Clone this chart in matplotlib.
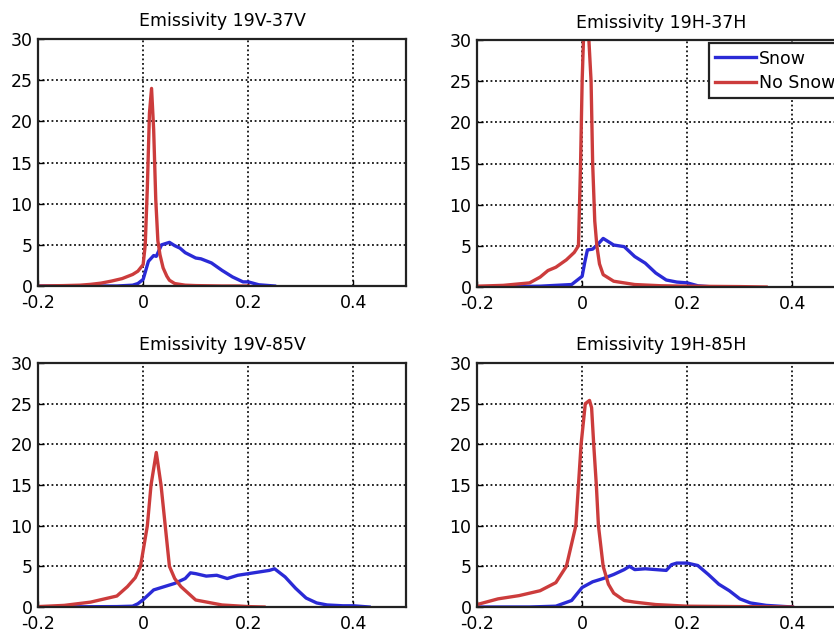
import matplotlib.pyplot as plt

plt.rcParams['font.family'] = ['DejaVu Sans']

# Emissivity 19V-37V
x_v37_nosnow = [-0.2, -0.15, -0.12, -0.10, -0.08, -0.06, -0.04, -0.02, -0.01, 0.0, 0.004, 0.008,
                0.012, 0.016, 0.02, 0.024, 0.028, 0.032, 0.038, 0.045, 0.05, 0.06, 0.08, 0.1, 0.15, 0.2]
y_v37_nosnow = [0.0, 0.05, 0.1, 0.2, 0.35, 0.6, 0.9, 1.4, 1.8, 2.6, 5.0, 12.0,
                21.0, 24.0, 19.0, 10.5, 5.5, 3.8, 2.2, 1.2, 0.7, 0.3, 0.1, 0.05, 0.0, 0.0]
x_v37_snow = [-0.2, -0.05, -0.02, -0.01, 0.0, 0.01, 0.02, 0.025, 0.03, 0.035, 0.05, 0.06, 0.07,
              0.08, 0.1, 0.11, 0.13, 0.15, 0.17, 0.19, 0.2, 0.22, 0.25]
y_v37_snow = [0.0, 0.0, 0.1, 0.3, 0.8, 3.0, 3.7, 3.6, 4.3, 5.0, 5.3, 4.9, 4.6,
              4.05, 3.4, 3.3, 2.8, 1.9, 1.1, 0.5, 0.5, 0.15, 0.0]

# Emissivity 19H-37H
x_h37_nosnow = [-0.2, -0.15, -0.1, -0.08, -0.065, -0.05, -0.03, -0.015, -0.007, -0.003, 0.0,
                0.003, 0.007, 0.012, 0.017, 0.02, 0.024, 0.028, 0.033, 0.04, 0.06, 0.1, 0.15,
                0.2, 0.3, 0.35]
y_h37_nosnow = [0.1, 0.2, 0.5, 1.2, 2.0, 2.4, 3.3, 4.2, 5.0, 15.0, 25.0,
                31.0, 32.0, 31.0, 25.0, 15.0, 8.0, 5.0, 2.8, 1.5, 0.7, 0.3, 0.15,
                0.1, 0.05, 0.0]
x_h37_snow = [-0.2, -0.08, -0.02, 0.0, 0.005, 0.01, 0.02, 0.03, 0.04, 0.06, 0.08, 0.1, 0.12,
              0.14, 0.16, 0.18, 0.2, 0.22, 0.25]
y_h37_snow = [0.0, 0.1, 0.3, 1.3, 3.0, 4.5, 4.6, 5.2, 5.9, 5.1, 4.9, 3.7, 2.9,
              1.7, 0.85, 0.6, 0.5, 0.15, 0.0]

# Emissivity 19V-85V
x_v85_nosnow = [-0.2, -0.15, -0.1, -0.05, -0.03, -0.015, -0.005, 0.008, 0.015, 0.025, 0.034,
                0.042, 0.05, 0.06, 0.072, 0.1, 0.15, 0.2, 0.23]
y_v85_nosnow = [0.05, 0.2, 0.6, 1.35, 2.5, 3.6, 5.0, 10.0, 15.0, 19.0, 15.0,
                10.0, 5.0, 3.5, 2.5, 0.86, 0.25, 0.05, 0.0]
x_v85_snow = [-0.2, -0.05, -0.02, -0.01, 0.0, 0.02, 0.04, 0.06, 0.08, 0.09, 0.1, 0.12, 0.14,
              0.16, 0.18, 0.2, 0.22, 0.24, 0.25, 0.27, 0.29, 0.31, 0.33, 0.35, 0.38, 0.4, 0.43]
y_v85_snow = [0.0, 0.05, 0.1, 0.4, 0.9, 2.1, 2.5, 2.9, 3.5, 4.2, 4.1, 3.8, 3.9,
              3.5, 3.9, 4.1, 4.3, 4.5, 4.7, 3.7, 2.3, 1.1, 0.5, 0.25, 0.15, 0.15, 0.0]

# Emissivity 19H-85H
x_h85_nosnow = [-0.2, -0.16, -0.12, -0.08, -0.05, -0.03, -0.012, -0.007, -0.002, 0.006,
                0.014, 0.018, 0.022, 0.027, 0.031, 0.04, 0.05, 0.06, 0.08, 0.1, 0.14, 0.2,
                0.3, 0.4]
y_h85_nosnow = [0.3, 1.0, 1.4, 2.0, 3.0, 5.0, 10.0, 15.0, 20.0, 25.0,
                25.4, 24.5, 20.0, 15.0, 10.0, 5.0, 2.8, 1.7, 0.8, 0.6, 0.3, 0.1,
                0.05, 0.0]
x_h85_snow = [-0.2, -0.1, -0.05, -0.02, 0.0, 0.02, 0.04, 0.06, 0.08, 0.09, 0.1, 0.12, 0.14,
              0.16, 0.17, 0.18, 0.2, 0.22, 0.24, 0.26, 0.28, 0.3, 0.32, 0.35, 0.4]
y_h85_snow = [0.0, 0.0, 0.1, 0.8, 2.4, 3.1, 3.5, 4.0, 4.6, 5.0, 4.6, 4.7, 4.6,
              4.5, 5.2, 5.4, 5.4, 5.1, 4.0, 2.8, 2.0, 1.0, 0.5, 0.2, 0.0]

titles = ['Emissivity 19V-37V', 'Emissivity 19H-37H', 'Emissivity 19V-85V', 'Emissivity 19H-85H']
xticks = [-0.2, 0, 0.2, 0.4]
xticklabels = ['-0.2', '0', '0.2', '0.4']
yticks = [0, 5, 10, 15, 20, 25, 30]

panels = [
    (x_v37_snow, y_v37_snow, x_v37_nosnow, y_v37_nosnow),
    (x_h37_snow, y_h37_snow, x_h37_nosnow, y_h37_nosnow),
    (x_v85_snow, y_v85_snow, x_v85_nosnow, y_v85_nosnow),
    (x_h85_snow, y_h85_snow, x_h85_nosnow, y_h85_nosnow),
]

W, H = 834, 632
fig = plt.figure(figsize=(W / 100, H / 100), dpi=100)

# left, top, right, bottom in pixels; right column runs off the page edge
boxes = [(38, 39, 406, 286), (477, 40, 845, 287),
         (38, 363, 406, 607), (477, 363, 845, 607)]

blue = '#2a2ad6'
red = '#cc3c3c'

for i, (xs, ys, xn, yn) in enumerate(panels):
    l, t, r, b = boxes[i]
    ax = fig.add_axes([l / W, 1 - b / H, (r - l) / W, (b - t) / H])
    ax.plot(xs, ys, color=blue, lw=2.4, label='Snow')
    ax.plot(xn, yn, color=red, lw=2.4, label='No Snow')
    ax.set_xlim(-0.2, 0.5)
    ax.set_ylim(0, 30)
    ax.set_xticks(xticks)
    ax.set_xticklabels(xticklabels)
    ax.set_yticks(yticks)
    ax.grid(True, color='#111111', linestyle=(0, (1, 1.5)), linewidth=1.3)
    ax.tick_params(direction='in', length=4, width=1, labelsize=12.5)
    ax.tick_params(axis='x', pad=6)
    ax.tick_params(axis='y', pad=4)
    for s in ax.spines.values():
        s.set_linewidth(1.6)
        s.set_color('#222222')
    ax.set_title(titles[i], fontsize=12.5, pad=9)
    if i == 1:
        leg = ax.legend(loc='upper right', fontsize=12.5, fancybox=False, framealpha=1,
                        edgecolor='#222222', borderpad=0.35, handlelength=2.4,
                        handletextpad=0.15, labelspacing=0.35, borderaxespad=0.2)
        leg.get_frame().set_linewidth(1.6)

fig.savefig('out.png', dpi=100)
